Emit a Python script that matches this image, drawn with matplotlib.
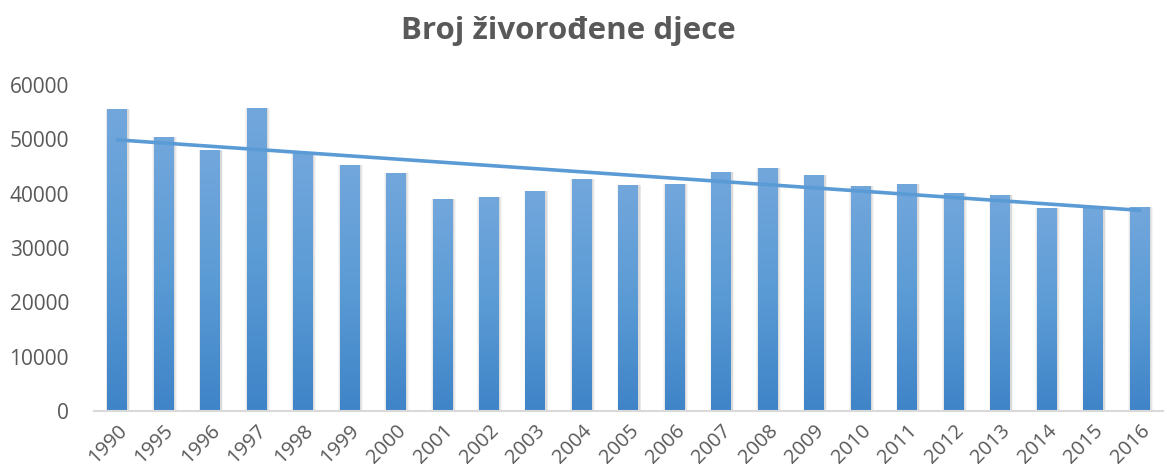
import numpy as np
import matplotlib.pyplot as plt
from matplotlib.colors import LinearSegmentedColormap

years = ["1990", "1995", "1996", "1997", "1998", "1999", "2000", "2001", "2002",
         "2003", "2004", "2005", "2006", "2007", "2008", "2009", "2010", "2011",
         "2012", "2013", "2014", "2015", "2016"]
births = [55500, 50400, 48000, 55800, 47500, 45300, 43800, 39000, 39400,
          40500, 42700, 41600, 41800, 44000, 44700, 43400, 41400, 41800,
          40100, 39800, 37400, 37300, 37600]
y_ticks = [0, 10000, 20000, 30000, 40000, 50000, 60000]

plt.rcParams['font.family'] = ['Open Sans', 'DejaVu Sans']
grey_text = "#595959"

fig = plt.figure(figsize=(11.67, 4.75), dpi=100)
ax = fig.add_axes([0.0805, 0.1347, 0.916, 0.6863])

x = np.arange(len(years))
width = 0.43

# soft shadow behind bars
for extra, a in [(0.10, 0.04), (0.06, 0.05), (0.03, 0.06)]:
    ax.bar(x + 0.015, births, width=width + extra, color="#000000", alpha=a, zorder=1)
bars = ax.bar(x, births, width=width, color="#5b9bd5", zorder=2)

grad = LinearSegmentedColormap.from_list("g", ["#3f84c8", "#5b9bd5", "#72a7dc"])
gradient = np.linspace(0, 1, 256).reshape(-1, 1)
for b in bars:
    x0 = b.get_x()
    im = ax.imshow(gradient, cmap=grad, origin="lower", aspect="auto",
                   extent=[x0, x0 + b.get_width(), 0, b.get_height()], zorder=3)
    im.set_clip_path(b)

# linear trendline
k, c = np.polyfit(x, births, 1)
ax.plot(x, k * x + c, color="#5b9bd5", linewidth=2.6, solid_capstyle="round", zorder=4)

ax.set_xlim(-0.5, len(years) - 0.5)
ax.set_ylim(0, 60000)
ax.set_yticks(y_ticks)
ax.set_yticklabels([str(v) for v in y_ticks], fontsize=15, color=grey_text)
ax.set_xticks(x)
ax.set_xticklabels(years, rotation=45, ha="right", rotation_mode="anchor",
                   fontsize=14.5, color=grey_text)
ax.tick_params(axis="both", length=0)
ax.tick_params(axis="y", pad=18)
ax.tick_params(axis="x", pad=7)
for s in ["top", "right", "left"]:
    ax.spines[s].set_visible(False)
ax.spines["bottom"].set_color("#d9d9d9")
ax.spines["bottom"].set_linewidth(1.5)
ax.spines["bottom"].set_zorder(5)

fig.text(0.487, 0.935, "Broj živorođene djece", ha="center", va="center",
         fontsize=22.5, fontweight="bold", color=grey_text)

fig.savefig("out.png", dpi=100)
